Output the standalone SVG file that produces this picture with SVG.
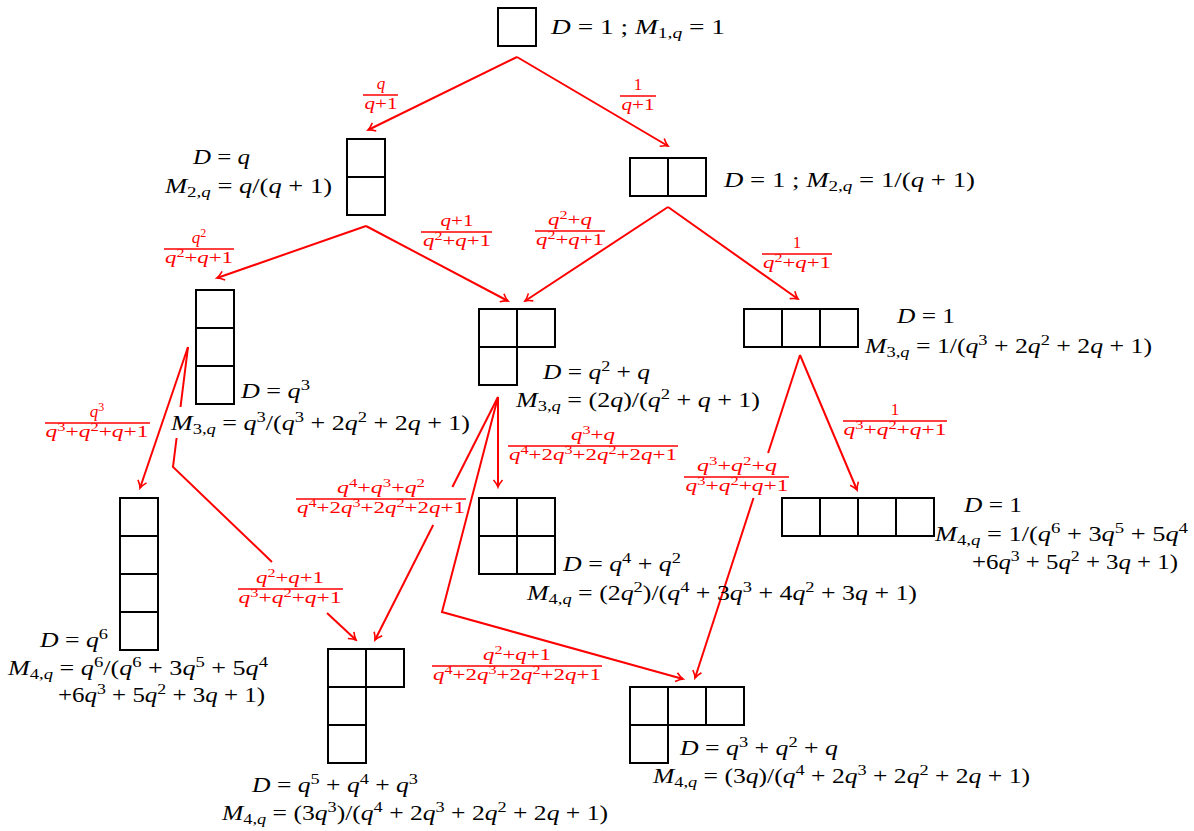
<svg xmlns="http://www.w3.org/2000/svg" width="1194" height="831" viewBox="0 0 1194 831">
<defs>
<style>
.box{fill:#fff;stroke:#000;stroke-width:2}
.m{font-family:"Liberation Serif","DejaVu Serif",serif;font-size:21px;fill:#000}
.s{font-size:15px}
.i{font-style:italic}
.r{font-family:"Liberation Serif","DejaVu Serif",serif;font-size:17px;fill:#f00;text-anchor:middle}
.rs{font-size:12px}
.fb{stroke:#f00;stroke-width:1.4}
.c{fill:none;stroke:#f00;stroke-width:2}
.ca{fill:none;stroke:#f00;stroke-width:2;marker-end:url(#ah)}
</style>
<marker id="ah" viewBox="-10 -6 12 12" refX="0" refY="0" markerWidth="12" markerHeight="12" markerUnits="userSpaceOnUse" orient="auto">
<path d="M-7,-4.5 Q-3,-1 0,0 Q-3,1 -7,4.5" fill="none" stroke="#f00" stroke-width="1.6"/>
</marker>
</defs>
<rect width="1194" height="831" fill="#fff"/>

<g id="connectors">
<line class="ca" x1="517" y1="57" x2="368" y2="130"/>
<line class="ca" x1="517" y1="57" x2="668" y2="146"/>
<line class="ca" x1="366" y1="226" x2="217" y2="278"/>
<line class="ca" x1="366" y1="226" x2="508" y2="301"/>
<line class="ca" x1="668" y1="207" x2="525" y2="301"/>
<line class="ca" x1="668" y1="207" x2="798" y2="299"/>
<line class="ca" x1="188" y1="347" x2="140" y2="488"/>
<line class="c" x1="188" y1="347" x2="180.5" y2="407"/>
<polyline class="c" points="176.6,438 173,467 272,562"/>
<line class="ca" x1="327" y1="613" x2="356" y2="640"/>
<line class="ca" x1="498" y1="397" x2="498" y2="487"/>
<line class="c" x1="498" y1="397" x2="452.4" y2="487"/>
<line class="ca" x1="433.2" y1="525" x2="375" y2="640"/>
<polyline class="ca" points="498,397 442,612 683,679"/>
<line class="ca" x1="800" y1="355" x2="857" y2="490"/>
<line class="c" x1="800" y1="355" x2="768.1" y2="453"/>
<line class="ca" x1="753.5" y1="498" x2="695" y2="678"/>
</g>

<g id="edge-labels">
<g><line class="fb" x1="363" y1="95" x2="398" y2="95"/><text class="r" x="381" y="89"><tspan class="i">q</tspan></text><text class="r" x="381" y="109" textLength="33" lengthAdjust="spacingAndGlyphs"><tspan class="i">q</tspan>+1</text></g>
<g><line class="fb" x1="620" y1="96" x2="656" y2="96"/><text class="r" x="638" y="90">1</text><text class="r" x="638" y="110" textLength="33" lengthAdjust="spacingAndGlyphs"><tspan class="i">q</tspan>+1</text></g>
<g><line class="fb" x1="164" y1="249" x2="234" y2="249"/><text class="r" x="199" y="243"><tspan class="i">q</tspan><tspan class="rs" dy="-6">2</tspan></text><text class="r" x="199" y="263" textLength="68" lengthAdjust="spacingAndGlyphs"><tspan class="i">q</tspan><tspan class="rs" dy="-6">2</tspan><tspan dy="6">+</tspan><tspan class="i">q</tspan>+1</text></g>
<g><line class="fb" x1="421" y1="232" x2="492" y2="232"/><text class="r" x="457" y="226" textLength="33" lengthAdjust="spacingAndGlyphs"><tspan class="i">q</tspan>+1</text><text class="r" x="457" y="246" textLength="68" lengthAdjust="spacingAndGlyphs"><tspan class="i">q</tspan><tspan class="rs" dy="-6">2</tspan><tspan dy="6">+</tspan><tspan class="i">q</tspan>+1</text></g>
<g><line class="fb" x1="535" y1="231" x2="605" y2="231"/><text class="r" x="570" y="225" textLength="44" lengthAdjust="spacingAndGlyphs"><tspan class="i">q</tspan><tspan class="rs" dy="-6">2</tspan><tspan dy="6">+</tspan><tspan class="i">q</tspan></text><text class="r" x="570" y="245" textLength="68" lengthAdjust="spacingAndGlyphs"><tspan class="i">q</tspan><tspan class="rs" dy="-6">2</tspan><tspan dy="6">+</tspan><tspan class="i">q</tspan>+1</text></g>
<g><line class="fb" x1="762" y1="254" x2="832" y2="254"/><text class="r" x="797" y="248">1</text><text class="r" x="797" y="268" textLength="68" lengthAdjust="spacingAndGlyphs"><tspan class="i">q</tspan><tspan class="rs" dy="-6">2</tspan><tspan dy="6">+</tspan><tspan class="i">q</tspan>+1</text></g>
<g><line class="fb" x1="45" y1="423" x2="150" y2="423"/><text class="r" x="97" y="417"><tspan class="i">q</tspan><tspan class="rs" dy="-6">3</tspan></text><text class="r" x="97" y="437" textLength="103" lengthAdjust="spacingAndGlyphs"><tspan class="i">q</tspan><tspan class="rs" dy="-6">3</tspan><tspan dy="6">+</tspan><tspan class="i">q</tspan><tspan class="rs" dy="-6">2</tspan><tspan dy="6">+</tspan><tspan class="i">q</tspan>+1</text></g>
<g><line class="fb" x1="508" y1="446" x2="678" y2="446"/><text class="r" x="593" y="440" textLength="44" lengthAdjust="spacingAndGlyphs"><tspan class="i">q</tspan><tspan class="rs" dy="-6">3</tspan><tspan dy="6">+</tspan><tspan class="i">q</tspan></text><text class="r" x="593" y="460" textLength="168" lengthAdjust="spacingAndGlyphs"><tspan class="i">q</tspan><tspan class="rs" dy="-6">4</tspan><tspan dy="6">+2</tspan><tspan class="i">q</tspan><tspan class="rs" dy="-6">3</tspan><tspan dy="6">+2</tspan><tspan class="i">q</tspan><tspan class="rs" dy="-6">2</tspan><tspan dy="6">+2</tspan><tspan class="i">q</tspan>+1</text></g>
<g><line class="fb" x1="843" y1="421" x2="947" y2="421"/><text class="r" x="895" y="415">1</text><text class="r" x="895" y="435" textLength="103" lengthAdjust="spacingAndGlyphs"><tspan class="i">q</tspan><tspan class="rs" dy="-6">3</tspan><tspan dy="6">+</tspan><tspan class="i">q</tspan><tspan class="rs" dy="-6">2</tspan><tspan dy="6">+</tspan><tspan class="i">q</tspan>+1</text></g>
<g><line class="fb" x1="684" y1="477" x2="789" y2="477"/><text class="r" x="737" y="471" textLength="80" lengthAdjust="spacingAndGlyphs"><tspan class="i">q</tspan><tspan class="rs" dy="-6">3</tspan><tspan dy="6">+</tspan><tspan class="i">q</tspan><tspan class="rs" dy="-6">2</tspan><tspan dy="6">+</tspan><tspan class="i">q</tspan></text><text class="r" x="737" y="491" textLength="103" lengthAdjust="spacingAndGlyphs"><tspan class="i">q</tspan><tspan class="rs" dy="-6">3</tspan><tspan dy="6">+</tspan><tspan class="i">q</tspan><tspan class="rs" dy="-6">2</tspan><tspan dy="6">+</tspan><tspan class="i">q</tspan>+1</text></g>
<g><line class="fb" x1="296" y1="499" x2="466" y2="499"/><text class="r" x="381" y="493" textLength="88" lengthAdjust="spacingAndGlyphs"><tspan class="i">q</tspan><tspan class="rs" dy="-6">4</tspan><tspan dy="6">+</tspan><tspan class="i">q</tspan><tspan class="rs" dy="-6">3</tspan><tspan dy="6">+</tspan><tspan class="i">q</tspan><tspan class="rs" dy="-6">2</tspan></text><text class="r" x="381" y="513" textLength="168" lengthAdjust="spacingAndGlyphs"><tspan class="i">q</tspan><tspan class="rs" dy="-6">4</tspan><tspan dy="6">+2</tspan><tspan class="i">q</tspan><tspan class="rs" dy="-6">3</tspan><tspan dy="6">+2</tspan><tspan class="i">q</tspan><tspan class="rs" dy="-6">2</tspan><tspan dy="6">+2</tspan><tspan class="i">q</tspan>+1</text></g>
<g><line class="fb" x1="238" y1="589" x2="343" y2="589"/><text class="r" x="290" y="583" textLength="68" lengthAdjust="spacingAndGlyphs"><tspan class="i">q</tspan><tspan class="rs" dy="-6">2</tspan><tspan dy="6">+</tspan><tspan class="i">q</tspan>+1</text><text class="r" x="290" y="603" textLength="103" lengthAdjust="spacingAndGlyphs"><tspan class="i">q</tspan><tspan class="rs" dy="-6">3</tspan><tspan dy="6">+</tspan><tspan class="i">q</tspan><tspan class="rs" dy="-6">2</tspan><tspan dy="6">+</tspan><tspan class="i">q</tspan>+1</text></g>
<g><line class="fb" x1="432" y1="666" x2="602" y2="666"/><text class="r" x="517" y="660" textLength="68" lengthAdjust="spacingAndGlyphs"><tspan class="i">q</tspan><tspan class="rs" dy="-6">2</tspan><tspan dy="6">+</tspan><tspan class="i">q</tspan>+1</text><text class="r" x="517" y="680" textLength="168" lengthAdjust="spacingAndGlyphs"><tspan class="i">q</tspan><tspan class="rs" dy="-6">4</tspan><tspan dy="6">+2</tspan><tspan class="i">q</tspan><tspan class="rs" dy="-6">3</tspan><tspan dy="6">+2</tspan><tspan class="i">q</tspan><tspan class="rs" dy="-6">2</tspan><tspan dy="6">+2</tspan><tspan class="i">q</tspan>+1</text></g>
</g>

<g id="n1">
<rect class="box" x="498" y="8" width="38" height="38"/>
<text class="m" x="551" y="34" textLength="174" lengthAdjust="spacingAndGlyphs"><tspan class="i">D</tspan> = 1 ; <tspan class="i">M</tspan><tspan class="s" dy="4">1,</tspan><tspan class="s i">q</tspan><tspan dy="-4"> = 1</tspan></text>
</g>

<g id="n2">
<rect class="box" x="347" y="139" width="38" height="38"/>
<rect class="box" x="347" y="177" width="38" height="38"/>
<text class="m" x="193" y="164" textLength="57" lengthAdjust="spacingAndGlyphs"><tspan class="i">D</tspan> = <tspan class="i">q</tspan></text>
<text class="m" x="165" y="193" textLength="167" lengthAdjust="spacingAndGlyphs"><tspan class="i">M</tspan><tspan class="s" dy="4">2,</tspan><tspan class="s i">q</tspan><tspan dy="-4"> = </tspan><tspan class="i">q</tspan>/(<tspan class="i">q</tspan> + 1)</text>
</g>

<g id="n3">
<rect class="box" x="630" y="158" width="38" height="38"/>
<rect class="box" x="668" y="158" width="38" height="38"/>
<text class="m" x="724" y="187" textLength="251" lengthAdjust="spacingAndGlyphs"><tspan class="i">D</tspan> = 1 ; <tspan class="i">M</tspan><tspan class="s" dy="4">2,</tspan><tspan class="s i">q</tspan><tspan dy="-4"> = 1/(</tspan><tspan class="i">q</tspan> + 1)</text>
</g>

<g id="n4">
<rect class="box" x="196" y="290" width="38" height="38"/>
<rect class="box" x="196" y="328" width="38" height="38"/>
<rect class="box" x="196" y="366" width="38" height="38"/>
<text class="m" x="241" y="398" textLength="69" lengthAdjust="spacingAndGlyphs"><tspan class="i">D</tspan> = <tspan class="i">q</tspan><tspan class="s" dy="-8">3</tspan></text>
<text class="m" x="171" y="430" textLength="299" lengthAdjust="spacingAndGlyphs"><tspan class="i">M</tspan><tspan class="s" dy="4">3,</tspan><tspan class="s i">q</tspan><tspan dy="-4"> = </tspan><tspan class="i">q</tspan><tspan class="s" dy="-8">3</tspan><tspan dy="8">/(</tspan><tspan class="i">q</tspan><tspan class="s" dy="-8">3</tspan><tspan dy="8"> + 2</tspan><tspan class="i">q</tspan><tspan class="s" dy="-8">2</tspan><tspan dy="8"> + 2</tspan><tspan class="i">q</tspan> + 1)</text>
</g>

<g id="n5">
<rect class="box" x="479" y="309" width="38" height="38"/>
<rect class="box" x="517" y="309" width="38" height="38"/>
<rect class="box" x="479" y="347" width="38" height="38"/>
<text class="m" x="543" y="379" textLength="107" lengthAdjust="spacingAndGlyphs"><tspan class="i">D</tspan> = <tspan class="i">q</tspan><tspan class="s" dy="-8">2</tspan><tspan dy="8"> + </tspan><tspan class="i">q</tspan></text>
<text class="m" x="516" y="407" textLength="244" lengthAdjust="spacingAndGlyphs"><tspan class="i">M</tspan><tspan class="s" dy="4">3,</tspan><tspan class="s i">q</tspan><tspan dy="-4"> = (2</tspan><tspan class="i">q</tspan>)/(<tspan class="i">q</tspan><tspan class="s" dy="-8">2</tspan><tspan dy="8"> + </tspan><tspan class="i">q</tspan> + 1)</text>
</g>

<g id="n6">
<rect class="box" x="744" y="309" width="38" height="38"/>
<rect class="box" x="782" y="309" width="38" height="38"/>
<rect class="box" x="820" y="309" width="38" height="38"/>
<text class="m" x="897" y="323" textLength="58" lengthAdjust="spacingAndGlyphs"><tspan class="i">D</tspan> = 1</text>
<text class="m" x="865" y="353" textLength="287" lengthAdjust="spacingAndGlyphs"><tspan class="i">M</tspan><tspan class="s" dy="4">3,</tspan><tspan class="s i">q</tspan><tspan dy="-4"> = 1/(</tspan><tspan class="i">q</tspan><tspan class="s" dy="-8">3</tspan><tspan dy="8"> + 2</tspan><tspan class="i">q</tspan><tspan class="s" dy="-8">2</tspan><tspan dy="8"> + 2</tspan><tspan class="i">q</tspan> + 1)</text>
</g>

<g id="n7">
<rect class="box" x="120" y="498" width="38" height="38"/>
<rect class="box" x="120" y="536" width="38" height="38"/>
<rect class="box" x="120" y="574" width="38" height="38"/>
<rect class="box" x="120" y="612" width="38" height="38"/>
<text class="m" x="40" y="647" textLength="68" lengthAdjust="spacingAndGlyphs"><tspan class="i">D</tspan> = <tspan class="i">q</tspan><tspan class="s" dy="-8">6</tspan></text>
<text class="m" x="8" y="675" textLength="260" lengthAdjust="spacingAndGlyphs"><tspan class="i">M</tspan><tspan class="s" dy="4">4,</tspan><tspan class="s i">q</tspan><tspan dy="-4"> = </tspan><tspan class="i">q</tspan><tspan class="s" dy="-8">6</tspan><tspan dy="8">/(</tspan><tspan class="i">q</tspan><tspan class="s" dy="-8">6</tspan><tspan dy="8"> + 3</tspan><tspan class="i">q</tspan><tspan class="s" dy="-8">5</tspan><tspan dy="8"> + 5</tspan><tspan class="i">q</tspan><tspan class="s" dy="-8">4</tspan></text>
<text class="m" x="58" y="702" textLength="207" lengthAdjust="spacingAndGlyphs">+6<tspan class="i">q</tspan><tspan class="s" dy="-8">3</tspan><tspan dy="8"> + 5</tspan><tspan class="i">q</tspan><tspan class="s" dy="-8">2</tspan><tspan dy="8"> + 3</tspan><tspan class="i">q</tspan> + 1)</text>
</g>

<g id="n8">
<rect class="box" x="479" y="498" width="38" height="38"/>
<rect class="box" x="517" y="498" width="38" height="38"/>
<rect class="box" x="479" y="536" width="38" height="38"/>
<rect class="box" x="517" y="536" width="38" height="38"/>
<text class="m" x="563" y="571" textLength="118" lengthAdjust="spacingAndGlyphs"><tspan class="i">D</tspan> = <tspan class="i">q</tspan><tspan class="s" dy="-8">4</tspan><tspan dy="8"> + </tspan><tspan class="i">q</tspan><tspan class="s" dy="-8">2</tspan></text>
<text class="m" x="527" y="600" textLength="390" lengthAdjust="spacingAndGlyphs"><tspan class="i">M</tspan><tspan class="s" dy="4">4,</tspan><tspan class="s i">q</tspan><tspan dy="-4"> = (2</tspan><tspan class="i">q</tspan><tspan class="s" dy="-8">2</tspan><tspan dy="8">)/(</tspan><tspan class="i">q</tspan><tspan class="s" dy="-8">4</tspan><tspan dy="8"> + 3</tspan><tspan class="i">q</tspan><tspan class="s" dy="-8">3</tspan><tspan dy="8"> + 4</tspan><tspan class="i">q</tspan><tspan class="s" dy="-8">2</tspan><tspan dy="8"> + 3</tspan><tspan class="i">q</tspan> + 1)</text>
</g>

<g id="n9">
<rect class="box" x="782" y="498" width="38" height="38"/>
<rect class="box" x="820" y="498" width="38" height="38"/>
<rect class="box" x="858" y="498" width="38" height="38"/>
<rect class="box" x="896" y="498" width="38" height="38"/>
<text class="m" x="964" y="512" textLength="58" lengthAdjust="spacingAndGlyphs"><tspan class="i">D</tspan> = 1</text>
<text class="m" x="935" y="541" textLength="253" lengthAdjust="spacingAndGlyphs"><tspan class="i">M</tspan><tspan class="s" dy="4">4,</tspan><tspan class="s i">q</tspan><tspan dy="-4"> = 1/(</tspan><tspan class="i">q</tspan><tspan class="s" dy="-8">6</tspan><tspan dy="8"> + 3</tspan><tspan class="i">q</tspan><tspan class="s" dy="-8">5</tspan><tspan dy="8"> + 5</tspan><tspan class="i">q</tspan><tspan class="s" dy="-8">4</tspan></text>
<text class="m" x="972" y="569" textLength="206" lengthAdjust="spacingAndGlyphs">+6<tspan class="i">q</tspan><tspan class="s" dy="-8">3</tspan><tspan dy="8"> + 5</tspan><tspan class="i">q</tspan><tspan class="s" dy="-8">2</tspan><tspan dy="8"> + 3</tspan><tspan class="i">q</tspan> + 1)</text>
</g>

<g id="n10">
<rect class="box" x="328" y="649" width="38" height="38"/>
<rect class="box" x="366" y="649" width="38" height="38"/>
<rect class="box" x="328" y="687" width="38" height="38"/>
<rect class="box" x="328" y="725" width="38" height="38"/>
<text class="m" x="252" y="792" textLength="166" lengthAdjust="spacingAndGlyphs"><tspan class="i">D</tspan> = <tspan class="i">q</tspan><tspan class="s" dy="-8">5</tspan><tspan dy="8"> + </tspan><tspan class="i">q</tspan><tspan class="s" dy="-8">4</tspan><tspan dy="8"> + </tspan><tspan class="i">q</tspan><tspan class="s" dy="-8">3</tspan></text>
<text class="m" x="222" y="820" textLength="386" lengthAdjust="spacingAndGlyphs"><tspan class="i">M</tspan><tspan class="s" dy="4">4,</tspan><tspan class="s i">q</tspan><tspan dy="-4"> = (3</tspan><tspan class="i">q</tspan><tspan class="s" dy="-8">3</tspan><tspan dy="8">)/(</tspan><tspan class="i">q</tspan><tspan class="s" dy="-8">4</tspan><tspan dy="8"> + 2</tspan><tspan class="i">q</tspan><tspan class="s" dy="-8">3</tspan><tspan dy="8"> + 2</tspan><tspan class="i">q</tspan><tspan class="s" dy="-8">2</tspan><tspan dy="8"> + 2</tspan><tspan class="i">q</tspan> + 1)</text>
</g>

<g id="n11">
<rect class="box" x="630" y="687" width="38" height="38"/>
<rect class="box" x="668" y="687" width="38" height="38"/>
<rect class="box" x="706" y="687" width="38" height="38"/>
<rect class="box" x="630" y="725" width="38" height="38"/>
<text class="m" x="680" y="755" textLength="158" lengthAdjust="spacingAndGlyphs"><tspan class="i">D</tspan> = <tspan class="i">q</tspan><tspan class="s" dy="-8">3</tspan><tspan dy="8"> + </tspan><tspan class="i">q</tspan><tspan class="s" dy="-8">2</tspan><tspan dy="8"> + </tspan><tspan class="i">q</tspan></text>
<text class="m" x="653" y="783" textLength="377" lengthAdjust="spacingAndGlyphs"><tspan class="i">M</tspan><tspan class="s" dy="4">4,</tspan><tspan class="s i">q</tspan><tspan dy="-4"> = (3</tspan><tspan class="i">q</tspan>)/(<tspan class="i">q</tspan><tspan class="s" dy="-8">4</tspan><tspan dy="8"> + 2</tspan><tspan class="i">q</tspan><tspan class="s" dy="-8">3</tspan><tspan dy="8"> + 2</tspan><tspan class="i">q</tspan><tspan class="s" dy="-8">2</tspan><tspan dy="8"> + 2</tspan><tspan class="i">q</tspan> + 1)</text>
</g>
</svg>
